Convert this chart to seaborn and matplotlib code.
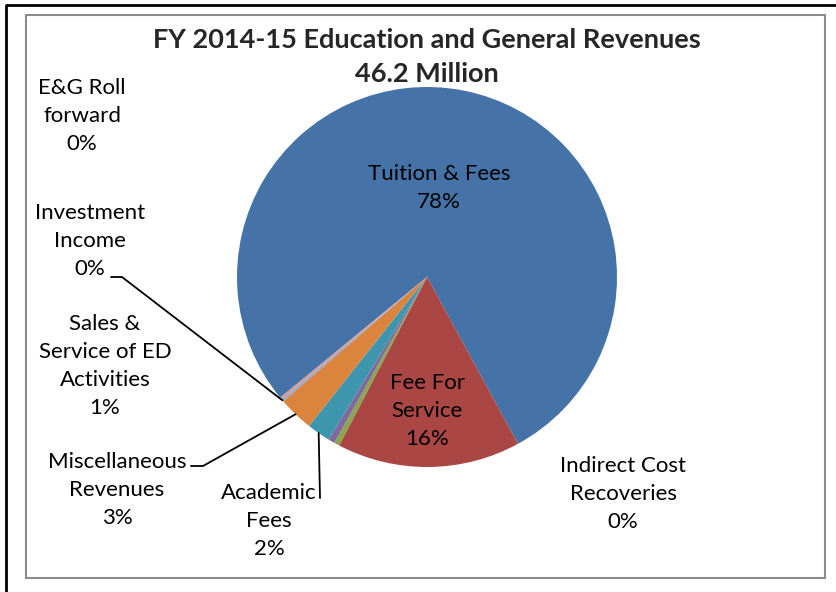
import matplotlib
matplotlib.use("Agg")
import matplotlib.pyplot as plt
import numpy as np
import seaborn as sns

sns.set_theme(style="white")
plt.rcParams['font.family'] = ['Lato', 'DejaVu Sans']

# slice data, clockwise from the first slice
categories = ["Tuition & Fees", "Fee For Service", "Indirect Cost Recoveries",
              "Sales & Service of ED Activities", "Academic Fees",
              "Miscellaneous Revenues", "Investment Income", "E&G Roll forward"]
shares = [78.0, 15.6, 0.45, 0.55, 2.0, 3.0, 0.2, 0.2]
pct_labels = ["78%", "16%", "0%", "1%", "2%", "3%", "0%", "0%"]
label_text = ["Tuition & Fees", "Fee For\nService", "Indirect Cost\nRecoveries",
              "Sales &\nService of ED\nActivities", "Academic\nFees",
              "Miscellaneous\nRevenues", "Investment\nIncome", "E&G Roll\nforward"]

colors = ["#4572A7", "#AA4643", "#89A54E", "#80699B", "#3D96AE",
          "#DB843D", "#92A8CD", "#D39A98"]

W, H = 836, 592
fig = plt.figure(figsize=(W / 100, H / 100), dpi=100)
ax = fig.add_axes([0, 0, 1, 1])

# chart borders
ax.plot([6, 6, W], [0, H - 5, H - 5], color="black", lw=2, solid_capstyle="butt")
ax.add_patch(plt.Rectangle((26, H - 578), 799, 563, fill=False,
                           edgecolor="#8c8c8c", lw=1.5))

cx, cy, r = 427, H - 277, 190
wedges, _ = ax.pie(shares, colors=colors, startangle=90 - 230.6,
                   counterclock=False, center=(cx, cy), radius=r,
                   wedgeprops=dict(linewidth=0), frame=True)
ax.set_xlim(0, W)
ax.set_ylim(0, H)
ax.set_aspect("equal")
ax.axis("off")

# label centres (pixel coords from top-left) and leader-line ends
label_pos = [(439, 188), (427, 411), (623, 494), (105, 366),
             (269, 521), (117, 490), (90, 241), (82, 116)]
leaders = {4: (320, 498), 5: (191, 466), 6: (111, 277)}
elbows = {5: (203, 466), 6: (122, 277)}

for i, w in enumerate(wedges):
    x, y = label_pos[i]
    ax.text(x, H - y, label_text[i] + "\n" + pct_labels[i], ha="center",
            va="center", fontsize=16, linespacing=1.5, color="black")
    if i in leaders:
        mid = np.deg2rad((w.theta1 + w.theta2) / 2)
        px, py = cx + r * np.cos(mid), cy + r * np.sin(mid)
        lx, ly = leaders[i]
        xs, ys = [lx], [H - ly]
        if i in elbows:
            ex, ey = elbows[i]
            xs.append(ex)
            ys.append(H - ey)
        xs.append(px)
        ys.append(py)
        ax.plot(xs, ys, color="black", lw=1.3)

ax.text(427, H - 40, "FY 2014-15 Education and General Revenues", ha="center",
        va="center", fontsize=19.5, fontweight="bold")
ax.text(427, H - 74, "46.2 Million", ha="center", va="center",
        fontsize=19.5, fontweight="bold")

fig.savefig("out.png", dpi=100)
